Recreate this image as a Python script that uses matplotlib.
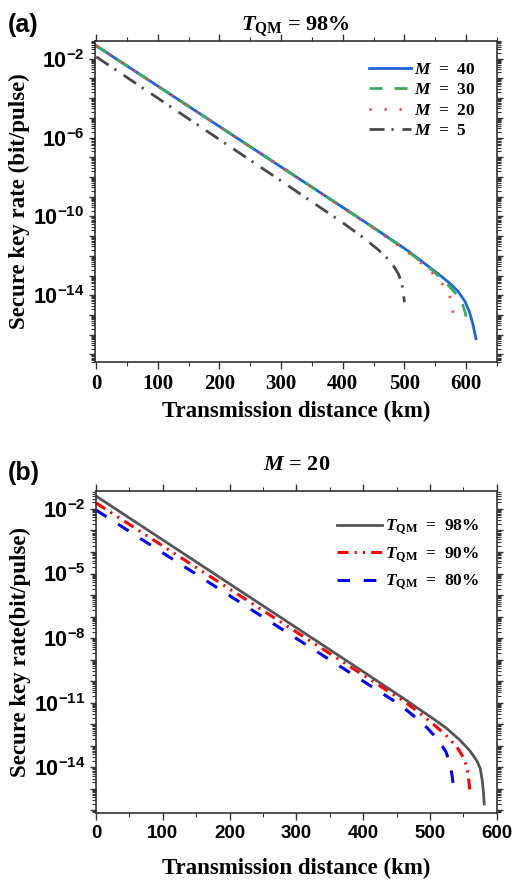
import matplotlib
matplotlib.use('Agg')
import matplotlib.pyplot as plt
from matplotlib.ticker import FixedLocator, MultipleLocator, FuncFormatter, LogLocator, NullFormatter
import numpy as np

# Panel (a): T_QM = 98%, different M (distance km, log10 key rate)
dist_m40 = [0, 100, 200, 300, 400, 450, 500, 520, 540, 560, 575, 587, 598, 605, 611, 616]
logk_m40 = [-1.34, -3.39, -5.44, -7.49, -9.54, -10.57, -11.62, -12.08, -12.56, -13.04, -13.43, -13.8, -14.3, -14.8, -15.45, -16.2]
dist_m30 = [0, 100, 200, 300, 400, 450, 500, 520, 546, 565, 578, 587, 594, 598, 600]
logk_m30 = [-1.34, -3.39, -5.44, -7.49, -9.54, -10.57, -11.64, -12.12, -12.75, -13.3, -13.72, -14.05, -14.45, -14.8, -15.1]
dist_m20 = [0, 100, 200, 300, 400, 450, 500, 520, 540, 556, 567, 574, 577, 579]
logk_m20 = [-1.34, -3.39, -5.44, -7.49, -9.55, -10.6, -11.68, -12.16, -12.7, -13.2, -13.65, -14.1, -14.45, -14.9]
dist_m5 = [0, 100, 200, 300, 400, 430, 455, 470, 482, 490, 495, 498, 500]
logk_m5 = [-1.9, -4.0, -6.1, -8.2, -10.32, -11.0, -11.62, -12.05, -12.5, -12.9, -13.3, -13.8, -14.35]

# Panel (b): M = 20, different T_QM
dist_t98 = [0, 100, 200, 300, 400, 465, 485, 505, 525, 545, 560, 570, 575, 578, 580, 581]
logk_t98 = [-1.4, -3.44, -5.48, -7.52, -9.56, -10.9, -11.33, -11.75, -12.2, -12.75, -13.25, -13.7, -14.05, -14.6, -15.2, -15.7]
dist_t90 = [0, 100, 200, 300, 400, 465, 485, 505, 525, 540, 550, 555, 558, 560]
logk_t90 = [-1.72, -3.72, -5.72, -7.72, -9.72, -11.02, -11.5, -12.0, -12.55, -13.05, -13.55, -14.0, -14.6, -15.3]
dist_t80 = [0, 100, 200, 300, 400, 455, 475, 495, 512, 524, 530, 533, 535]
logk_t80 = [-2.05, -4.04, -6.03, -8.02, -10.0, -11.1, -11.6, -12.15, -12.72, -13.3, -13.85, -14.4, -14.9]

xticks_a = [0, 100, 200, 300, 400, 500, 600]
xticks_b = [0, 100, 200, 300, 400, 500, 600]
ylabels_a = [-2, -6, -10, -14]
ylabels_b = [-2, -5, -8, -11, -14]

plt.rcParams['font.family'] = 'Liberation Serif'
plt.rcParams['font.weight'] = 'bold'
plt.rcParams['axes.labelweight'] = 'bold'
plt.rcParams['axes.titleweight'] = 'bold'
plt.rcParams['mathtext.fontset'] = 'custom'
plt.rcParams['mathtext.rm'] = 'Liberation Serif:bold'
plt.rcParams['mathtext.it'] = 'Liberation Serif:bold:italic'
plt.rcParams['mathtext.bf'] = 'Liberation Sans:bold'
plt.rcParams['mathtext.sf'] = 'Liberation Sans:bold'

fig = plt.figure(figsize=(5.16, 8.86), dpi=100)
ax_a = fig.add_axes([0.184, 0.591, 0.779, 0.363])
ax_b = fig.add_axes([0.186, 0.082, 0.777, 0.364])


def pw(lst):
    return [10.0 ** v for v in lst]


def style_axes(ax, xlim, xticks, ylim, labelled, xfont, xsize):
    ax.set_yscale('log')
    ax.set_xlim(*xlim)
    ax.set_ylim(10 ** ylim[0], 10 ** ylim[1])
    ax.xaxis.set_major_locator(FixedLocator(xticks))
    ax.xaxis.set_minor_locator(MultipleLocator(50))
    ax.yaxis.set_major_locator(LogLocator(base=10, numticks=40))
    ax.yaxis.set_minor_locator(LogLocator(base=10, subs=np.arange(2, 10), numticks=40))
    ax.yaxis.set_minor_formatter(NullFormatter())

    def fmt(v, pos):
        e = int(round(np.log10(v)))
        if e in labelled:
            return r'$\mathsf{10^{%d}}$' % e
        return ''
    ax.yaxis.set_major_formatter(FuncFormatter(fmt))
    ax.tick_params(which='both', direction='out', top=True, right=True, labeltop=False, labelright=False,
                   color='#333333')
    ax.tick_params(which='major', length=5, width=1.0)
    ax.tick_params(which='minor', length=3, width=0.8)
    ax.tick_params(axis='y', which='major', length=4, labelsize=15.5)
    ax.tick_params(axis='x', which='major', labelsize=xsize)
    for lbl in ax.get_xticklabels():
        lbl.set_fontfamily(xfont)
        lbl.set_fontweight('bold')
    for s in ax.spines.values():
        s.set_linewidth(1.2)
        s.set_color('#333333')


# ---- panel (a)
ax_a.plot(dist_m40, pw(logk_m40), color='#1a66dd', lw=2.0, label=r'$M$  =  40')
ax_a.plot(dist_m30, pw(logk_m30), color='#3aaa5e', lw=2.0, dashes=(4.7, 4.3), label=r'$M$  =  30')
ax_a.plot(dist_m20, pw(logk_m20), color='#f04545', lw=2.0, dashes=(0.8, 4.6), label=r'$M$  =  20')
ax_a.plot(dist_m5, pw(logk_m5), color='#4a4a4a', lw=2.0, dashes=(5.4, 2.5, 0.8, 3.2), label=r'$M$  =  5')
style_axes(ax_a, (-2, 650), xticks_a, (-17.4, -1.09), ylabels_a, 'Liberation Serif', 15)
ax_a.set_xlabel('Transmission distance (km)', fontsize=16.5, labelpad=5)
ax_a.set_ylabel('Secure key rate (bit/pulse)', fontsize=16.5, labelpad=2)
ax_a.set_title(r'$T_{\rm QM}$ = 98%', fontsize=16, pad=7)
ax_a.legend(loc='upper right', frameon=False, fontsize=12.5, handlelength=2.4,
            handletextpad=0.2, labelspacing=0.25, borderaxespad=0.8)

# ---- panel (b)
ax_b.plot(dist_t98, pw(logk_t98), color='#555555', lw=2.0, label=r'$T_{\rm QM}$  =  98%')
ax_b.plot(dist_t90, pw(logk_t90), color='#ff0000', lw=2.2, dashes=(3.6, 2, 0.7, 2, 0.7, 2),
          label=r'$T_{\rm QM}$  =  90%')
ax_b.plot(dist_t80, pw(logk_t80), color='#0000ff', lw=2.2, dashes=(4.1, 4.5), label=r'$T_{\rm QM}$  =  80%')
style_axes(ax_b, (0, 600), xticks_b, (-16.14, -1.16), ylabels_b, 'Liberation Sans', 13.5)
ax_b.set_xlabel('Transmission distance (km)', fontsize=16.5, labelpad=11)
ax_b.set_ylabel('Secure key rate(bit/pulse)', fontsize=16.5, labelpad=2)
ax_b.set_title(r'$M$ = 20', fontsize=16, pad=15)
ax_b.legend(loc='upper right', bbox_to_anchor=(1.0, 0.97), frameon=False, fontsize=12.5, handlelength=2.6,
            handletextpad=0.2, labelspacing=0.5, borderaxespad=0.6)

fig.text(0.015, 0.972, '(a)', fontsize=18, fontfamily='Liberation Sans', fontweight='bold', va='center')
fig.text(0.015, 0.466, '(b)', fontsize=18, fontfamily='Liberation Sans', fontweight='bold', va='center')

fig.savefig('out.png', dpi=100)
